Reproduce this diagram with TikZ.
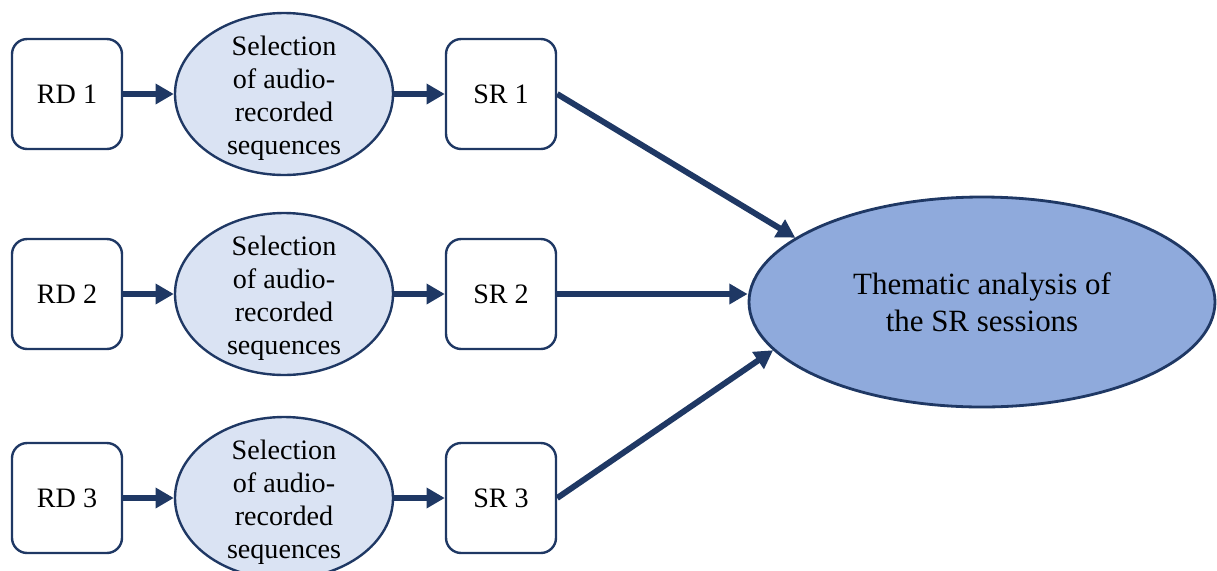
\documentclass[tikz,border=0pt]{standalone}
\usepackage{fontspec}
\setmainfont{Liberation Serif}
\usepackage{xcolor}
\usetikzlibrary{arrows.meta,shapes.geometric}

\definecolor{navy}{RGB}{31,56,100}
\definecolor{selfill}{RGB}{218,227,243}
\definecolor{themefill}{RGB}{143,170,220}

\newcommand{\seltext}{\raisebox{0pt}[20pt]{Selection}\\of audio-\\recorded\\sequences}

\tikzset{
    databox/.style={draw=navy, line width=1.7pt, rounded corners=0.38cm, fill=white,
        minimum width=2.75cm, minimum height=2.75cm, inner sep=0pt},
    selection/.style={ellipse, draw=navy, line width=1.7pt, fill=selfill, align=center,
        minimum width=5.45cm, minimum height=4.05cm, inner xsep=0pt, inner ysep=-12pt},
    thematic/.style={ellipse, draw=navy, line width=2pt, fill=themefill, align=center,
        minimum width=11.65cm, minimum height=5.25cm, inner sep=0pt,
        font=\fontsize{22}{26}\selectfont},
    flow/.style={->, draw=navy, line width=4.2pt}
}

\begin{document}
\begin{tikzpicture}[>={Triangle[length=13pt, width=14pt]}, font=\fontsize{20}{23.5}\selectfont]

        \useasboundingbox (0,0) rectangle (30.425,-14.25);

        \node[databox] at (1.675,-2.35) (rd1) {RD 1};
        \node[databox] at (1.675,-7.35) (rd2) {RD 2};
        \node[databox] at (1.675,-12.45) (rd3) {RD 3};

        \node[selection] at (7.1,-2.35) (sel1) {\seltext};
        \node[selection] at (7.1,-7.35) (sel2) {\seltext};
        \node[selection] at (7.1,-12.45) (sel3) {\seltext};

        \node[databox] at (12.525,-2.35) (sr1) {SR 1};
        \node[databox] at (12.525,-7.35) (sr2) {SR 2};
        \node[databox] at (12.525,-12.45) (sr3) {SR 3};

        \node[thematic] at (24.55,-7.55) (analysis) {Thematic analysis of\\the SR sessions};

        \draw[flow] (rd1) -- (sel1);
        \draw[flow] (rd2) -- (sel2);
        \draw[flow] (rd3) -- (sel3);
        \draw[flow] (sel1) -- (sr1);
        \draw[flow] (sel2) -- (sr2);
        \draw[flow] (sel3) -- (sr3);
        \draw[flow] (sr1.east) -- (analysis.161);
        \draw[flow] (sr2.east) -- (sr2.east -| analysis.west);
        \draw[flow] (sr3.east) -- (analysis.193);

    \end{tikzpicture}
\end{document}
